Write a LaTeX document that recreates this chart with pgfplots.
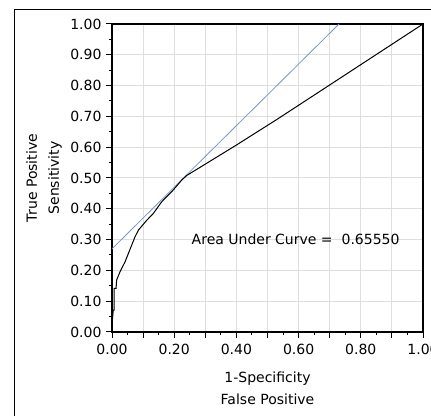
\documentclass[border=0pt]{standalone}
\usepackage{fontspec}
\setmainfont{DejaVu Sans}
\usepackage{pgfplots}
\pgfplotsset{compat=1.18}
\definecolor{rocblue}{RGB}{120,150,200}
\definecolor{gridgray}{RGB}{222,222,222}
\newcommand{\chartfont}{\fontsize{14}{22}\selectfont}
\begin{document}
\begin{tikzpicture}[x=1pt,y=1pt]
\clip (0,0) rectangle (431,415);
\path[use as bounding box] (0,0) rectangle (431,415);
% outer frame (runs off the right and bottom edges)
\draw[line width=1pt] (14,-20) -- (14,405) -- (470,405);
\begin{axis}[
    at={(112pt,83pt)}, anchor=south west,
    scale only axis, width=311pt, height=308pt,
    xmin=0, xmax=1, ymin=0, ymax=1,
    xtick={0,0.1,0.2,0.3,0.4,0.5,0.6,0.7,0.8,0.9,1},
    xticklabels={0.00,,0.20,,0.40,,0.60,,0.80,,1.00},
    ytick={0,0.1,0.2,0.3,0.4,0.5,0.6,0.7,0.8,0.9,1},
    yticklabels={0.00,0.10,0.20,0.30,0.40,0.50,0.60,0.70,0.80,0.90,1.00},
    minor xtick={0.05,0.15,0.25,0.35,0.45,0.55,0.65,0.75,0.85,0.95},
    minor ytick={0.05,0.15,0.25,0.35,0.45,0.55,0.65,0.75,0.85,0.95},
    tick align=outside, tick pos=left,
    major tick length=6pt, minor tick length=3pt,
    tick style={black, line width=1pt},
    grid=major,
    major grid style={gridgray, line width=1pt},
    axis line style={line width=1.3pt},
    tick label style={font=\chartfont},
    xticklabel style={yshift=-3pt},
    yticklabel style={xshift=-1pt},
    label style={font=\chartfont, align=center},
    xlabel={1-Specificity\\False Positive},
    ylabel={True Positive\\Sensitivity},
    xlabel style={at={(axis description cs:0.5,-0.182)}, anchor=center},
    ylabel style={at={(axis description cs:-0.219,0.5)}, anchor=center},
]
% tangent line
\addplot[rocblue, line width=0.8pt] coordinates {(0,0.27) (0.73,1.0)};
% ROC curve
\addplot[black, line width=1pt] coordinates {
(0.001,0.034) (0.004,0.071) (0.007,0.071) (0.007,0.142) (0.013,0.142)
(0.015,0.169) (0.026,0.196) (0.042,0.228) (0.074,0.309) (0.085,0.331)
(0.111,0.362) (0.133,0.385) (0.160,0.423) (0.197,0.461) (0.224,0.493)
(0.240,0.508) (0.300,0.545) (0.400,0.607) (0.530,0.690) (0.712,0.810)
(1.0,1.0)
};
\node[anchor=west, font=\chartfont] at (axis cs:0.245,0.30) {Area Under Curve =\ \ 0.65550};
\end{axis}
\end{tikzpicture}
\end{document}
